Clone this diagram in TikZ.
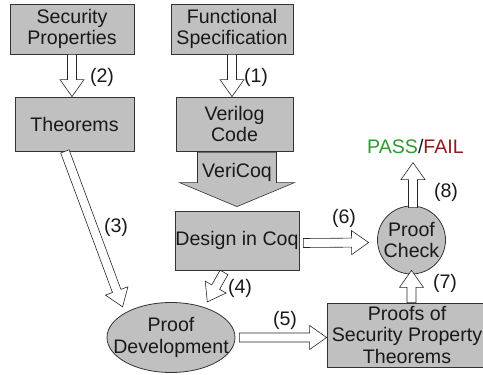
\documentclass[tikz,border=0pt]{standalone}
\usepackage{fontspec}
\setmainfont{Liberation Sans}
\usetikzlibrary{calc,shapes.geometric}

\definecolor{boxgray}{HTML}{C0C0C0}
\definecolor{edgegray}{HTML}{333333}
\definecolor{passgreen}{HTML}{2E9A2E}
\definecolor{failred}{HTML}{8E1B1B}

\tikzset{
    stage/.style={draw=edgegray, fill=boxgray, line width=0.8pt, text=black!90,
        align=center, inner sep=0pt, font=\fontsize{19.6}{21.5}\selectfont},
    blockarr/.style={draw=black!85, fill=white, line width=0.6pt, line join=miter},
    bigarr/.style={draw=edgegray, fill=boxgray, line width=0.6pt, line join=miter},
    steplabel/.style={font=\fontsize{19.6}{21.5}\selectfont, text=black!90, inner sep=0pt},
}

% block arrow sizes: half shaft, half head, head length
\def\bw{4.5pt}
\def\bh{12pt}
\def\bl{17pt}
\newcommand{\blockarr}[3][blockarr]{%
    \draw[#1] ($(#2)!\bw!90:(#3)$) -- ($(#3)!\bl!(#2)!\bw!-90:(#2)$)
        -- ($(#3)!\bl!(#2)!\bh!-90:(#2)$) -- (#3)
        -- ($(#3)!\bl!(#2)!\bh!90:(#2)$) -- ($(#3)!\bl!(#2)!\bw!90:(#2)$)
        -- ($(#2)!\bw!-90:(#3)$) -- cycle;}

\begin{document}
\begin{tikzpicture}[x=1pt, y=-1pt]
    \useasboundingbox (0,0) rectangle (483,375);

    % Boxes
    \node[stage, minimum width=124pt, minimum height=50pt] (secprop) at (72,29) {Security\\Properties};
    \node[stage, minimum width=122pt, minimum height=50pt] (funcspec) at (232,29) {Functional\\Specification};
    \node[stage, minimum width=119pt, minimum height=54pt] (thm) at (74.5,124) {Theorems};
    \node[stage, minimum width=117pt, minimum height=54pt] (verilog) at (234.5,124) {Verilog\\Code};
    \node[stage, minimum width=124pt, minimum height=59pt] (design) at (237,240.5) {Design in Coq};
    \node[stage, minimum width=160pt, minimum height=64pt] (proofs) at (407,335) {Proofs of\\Security Property\\Theorems};
    \node[stage, ellipse, inner xsep=-15pt, minimum width=128pt, minimum height=70pt] (pdev) at (171,337.5) {Proof\\Development};
    \node[stage, circle, minimum size=68pt] (pcheck) at (411.5,240) {Proof\\Check};
    \node[steplabel] (verdict) at (415.5,146) {\textcolor{passgreen}{PASS}/\textcolor{failred}{FAIL}};

    % VeriCoq translation
    \coordinate (vs) at ($(design.north |- verilog.south)+(0,1)$);
    \coordinate (vt) at ($(design.north)+(0,-4)$);
    \begin{scope}
        \def\bw{39.5pt}
        \def\bh{57.5pt}
        \def\bl{24pt}
        \blockarr[bigarr]{vs}{vt}
    \end{scope}
    \node[steplabel] (vericoq) at ($(vs)!0.37!(vt)$) {VeriCoq};

    % Connector ends
    \coordinate (t1) at (funcspec.south |- verilog.north);
    \coordinate (t2) at (secprop.south |- thm.north);
    \coordinate (s3) at ($(thm.south west)!0.42!(thm.south east)$);
    \coordinate (t3) at ($(pdev.150)+(-4,-5)$);
    \coordinate (s4) at ($(design.south)+(-13,2)$);
    \coordinate (t4) at ($(pdev.40)+(1,-6)$);
    \coordinate (s5) at ($(pdev.east)+(4,0)$);
    \coordinate (t5) at (proofs.west |- s5);
    \coordinate (s6) at ($(design.east)+(4,2.5)$);
    \coordinate (t6) at ($(pcheck.west)+(-8.5,2.5)$);
    \coordinate (s7) at (pcheck.south |- proofs.north);
    \coordinate (t7) at ($(pcheck.south)+(0,-4)$);
    \coordinate (s8) at ($(pcheck.north)+(1.5,2)$);
    \coordinate (t8) at ($(pcheck.north)+(1.5,-43)$);

    % Steps
    \blockarr{funcspec.south}{t1}
    \blockarr{secprop.south}{t2}
    \blockarr{s3}{t3}
    \blockarr{s4}{t4}
    \blockarr{s5}{t5}
    \blockarr{s6}{t6}
    \blockarr{s7}{t7}
    \blockarr{s8}{t8}

    % Step numbers
    \node[steplabel] (n1) at (256,77) {(1)};
    \node[steplabel] (n2) at (102,77) {(2)};
    \node[steplabel] (n3) at (116,227) {(3)};
    \node[steplabel] (n4) at (240,288) {(4)};
    \node[steplabel] (n5) at (285,320) {(5)};
    \node[steplabel] (n6) at (344,218) {(6)};
    \node[steplabel] (n7) at (445,283) {(7)};
    \node[steplabel] (n8) at (446,192) {(8)};
\end{tikzpicture}
\end{document}
